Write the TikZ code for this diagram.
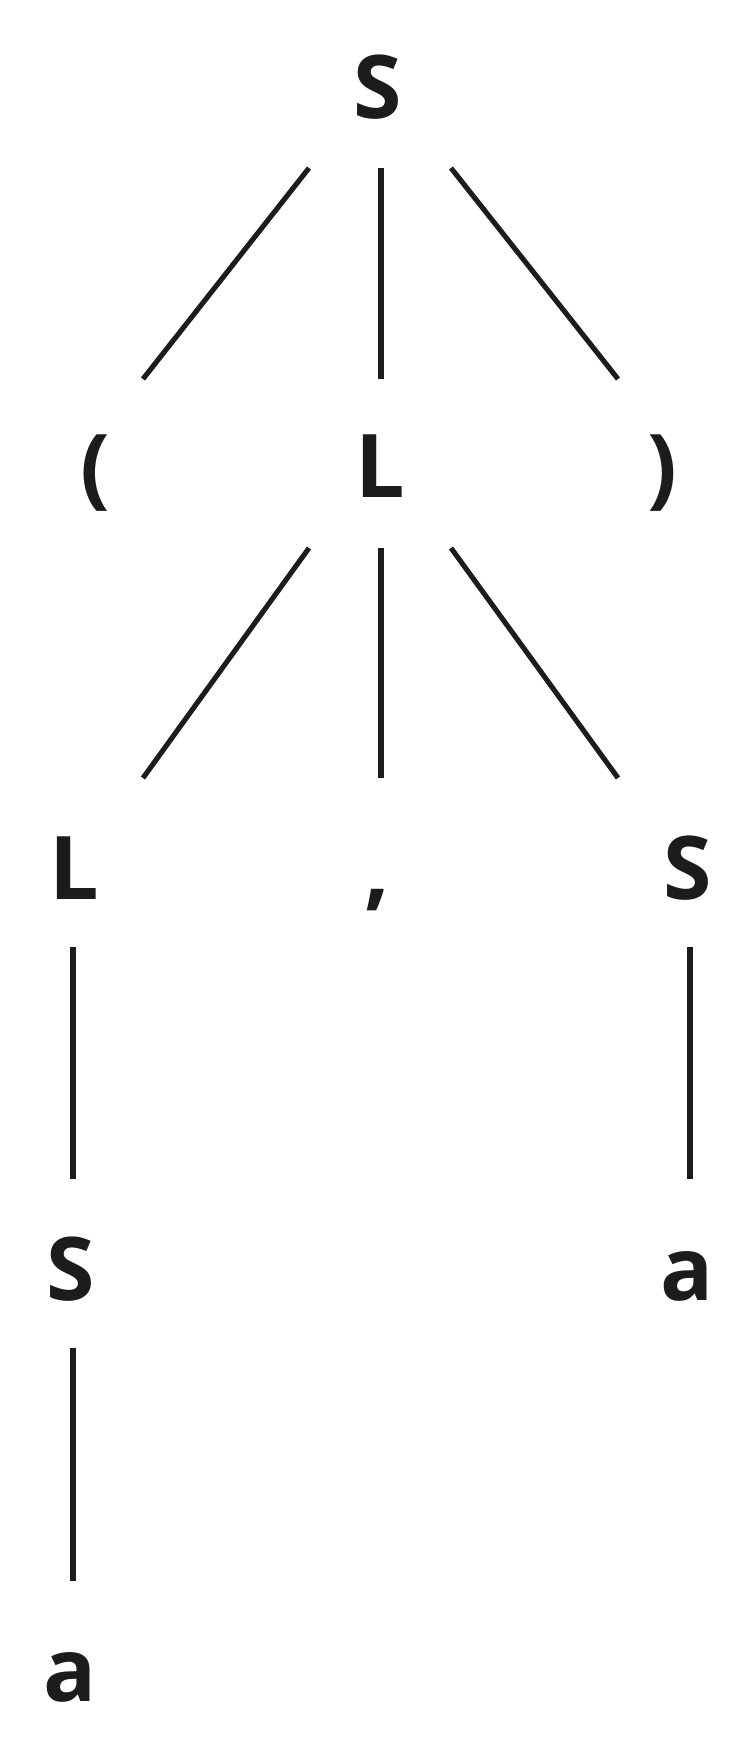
\documentclass[tikz,border=0pt]{standalone}
\usepackage{fontspec}
\setmainfont{Open Sans}
\usepackage{xcolor}
\definecolor{ink}{HTML}{1C1C1C}

\begin{document}
\begin{tikzpicture}[x=0.02cm, y=-0.02cm,
  sym/.style={anchor=base, inner sep=0pt, text=ink, font=\fontsize{50}{60}\selectfont\bfseries},
  edge/.style={draw=ink, line width=2.9pt}]
	\useasboundingbox[fill=white] (0,0) rectangle (756,1750);
	\node[sym] (s0) at (378,119) {S};
	\node[sym] (lp) at (95,497) {(};
	\node[sym] (l1) at (380,497) {L};
	\node[sym] (rp) at (662,497) {)};
	\node[sym] (l2) at (74,899) {L};
	\node[sym] (cm) at (377,899) {,};
	\node[sym] (s2) at (688,899) {S};
	\node[sym] (s3) at (71,1300) {S};
	\node[sym] (a1) at (687,1300) {a};
	\node[sym] (a2) at (70,1701) {a};
	\draw[edge] ([shift={(-69,49)}]s0.base) -- ([shift={(48,-118)}]lp.base);
	\draw[edge] ([shift={(3,49)}]s0.base) -- ([shift={(1,-118)}]l1.base);
	\draw[edge] ([shift={(73,49)}]s0.base) -- ([shift={(-44,-118)}]rp.base);
	\draw[edge] ([shift={(-71,51)}]l1.base) -- ([shift={(69,-121)}]l2.base);
	\draw[edge] ([shift={(1,51)}]l1.base) -- ([shift={(4,-121)}]cm.base);
	\draw[edge] ([shift={(71,51)}]l1.base) -- ([shift={(-70,-121)}]s2.base);
	\draw[edge] ([shift={(-1,48)}]l2.base) -- ([shift={(2,-121)}]s3.base);
	\draw[edge] ([shift={(2,48)}]s2.base) -- ([shift={(3,-121)}]a1.base);
	\draw[edge] ([shift={(2,48)}]s3.base) -- ([shift={(3,-120)}]a2.base);
\end{tikzpicture}
\end{document}
